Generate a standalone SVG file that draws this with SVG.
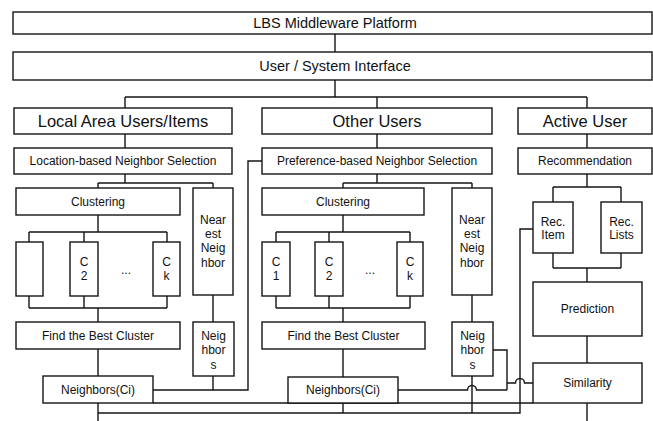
<svg xmlns="http://www.w3.org/2000/svg" width="653" height="421" viewBox="0 0 653 421">
  <style>
    .box { fill: #ffffff; stroke: #151515; stroke-width: 1.4; }
    .wire { fill: none; stroke: #151515; stroke-width: 1.4; }
    text { font-family: "Liberation Sans", Arial, Helvetica, sans-serif; fill: #111111; text-anchor: middle; }
    .big { font-size: 16.5px; }
    .top { font-size: 14.5px; }
    .mid { font-size: 12px; }
  </style>
  <rect width="653" height="421" fill="#ffffff"/>

  <!-- connectors -->
  <g id="connectors" class="wire">
    <path d="M335 34 V52 M335 80 V97 M125 97 H587 M125 97 V108 M377 97 V108 M587 97 V108"/>
    <path d="M125 134 V148 M377 134 V148 M587 134 V148"/>
    <!-- local area column -->
    <path d="M125 174 V183 M98 183 H213 M98 183 V188 M213 183 V188"/>
    <path d="M98 215 V232 M29 232 H167 M29 232 V242 M84 232 V242 M167 232 V242"/>
    <path d="M29 296 V308 M84 296 V308 M167 296 V308 M29 308 H167 M98 308 V322"/>
    <path d="M98 349 V376 M213 295 V322 M213 376 V390"/>
    <path d="M153 390 H248 V161 H262"/>
    <path d="M98 403 V421 M153 403 H533"/>
    <path d="M98 413 H520 V229 H533"/>
    <!-- other users column -->
    <path d="M377 174 V183 M343 183 H472 M343 183 V188 M472 183 V188"/>
    <path d="M343 215 V232 M276 232 H410 M276 232 V242 M329 232 V242 M410 232 V242"/>
    <path d="M276 296 V308 M329 296 V308 M410 296 V308 M276 308 H410 M343 308 V322"/>
    <path d="M343 349 V377 M472 295 V322 M472 376 V413 M343 403 V413"/>
    <path d="M398 390 H467.5 a4.5 4.5 0 0 1 9 0 H507"/>
    <path d="M493 350 H507 V390"/>
    <path d="M507 383 H515.5 a4.5 4.5 0 0 1 9 0 H533"/>
    <!-- active user column -->
    <path d="M587 174 V187 M553 187 H621 M553 187 V202 M621 187 V202"/>
    <path d="M553 253 V268 M621 253 V268 M553 268 H621 M587 268 V282"/>
    <path d="M587 336 V363 M587 403 V421"/>
  </g>

  <g id="lbs">
    <rect class="box" x="13" y="12" width="639" height="22"/>
    <text class="top" x="335" y="28">LBS Middleware Platform</text>
  </g>
  <g id="ui">
    <rect class="box" x="13" y="52" width="639" height="28"/>
    <text class="top" x="335" y="71">User / System Interface</text>
  </g>

  <!-- local area users / items -->
  <g id="local">
    <rect class="box" x="14" y="108" width="218" height="26"/>
    <text class="big" x="123" y="126.8">Local Area Users/Items</text>
  </g>
  <g id="locsel">
    <rect class="box" x="14" y="148" width="218" height="26"/>
    <text class="mid" x="123" y="165.2">Location-based Neighbor Selection</text>
  </g>
  <g id="clust1">
    <rect class="box" x="16" y="188" width="164" height="27"/>
    <text class="mid" x="98" y="205.7">Clustering</text>
  </g>
  <g id="near1">
    <rect class="box" x="193" y="188" width="40" height="107"/>
    <text class="mid" x="213" y="224">Near</text>
    <text class="mid" x="213" y="238">est</text>
    <text class="mid" x="213" y="252">Neig</text>
    <text class="mid" x="213" y="267">hbor</text>
  </g>
  <g id="c1a">
    <rect class="box" x="16" y="242" width="27" height="54"/>
  </g>
  <g id="c2a">
    <rect class="box" x="70" y="242" width="28" height="54"/>
    <text class="mid" x="84" y="266">C</text>
    <text class="mid" x="84" y="280">2</text>
  </g>
  <g id="dots1">
    <text class="mid" x="126" y="274">...</text>
  </g>
  <g id="cka">
    <rect class="box" x="153" y="242" width="27" height="54"/>
    <text class="mid" x="166.5" y="266">C</text>
    <text class="mid" x="166.5" y="280">k</text>
  </g>
  <g id="find1">
    <rect class="box" x="16" y="322" width="164" height="27"/>
    <text class="mid" x="98" y="339.7">Find the Best Cluster</text>
  </g>
  <g id="nb1">
    <rect class="box" x="193" y="322" width="41" height="54"/>
    <text class="mid" x="213.5" y="340">Neig</text>
    <text class="mid" x="213.5" y="354">hbor</text>
    <text class="mid" x="213.5" y="369">s</text>
  </g>
  <g id="nci1">
    <rect class="box" x="43" y="376" width="110" height="27"/>
    <text class="mid" x="98" y="393.7">Neighbors(Ci)</text>
  </g>

  <!-- other users -->
  <g id="other">
    <rect class="box" x="262" y="108" width="230" height="26"/>
    <text class="big" x="377" y="126.8">Other Users</text>
  </g>
  <g id="prefsel">
    <rect class="box" x="262" y="148" width="230" height="26"/>
    <text class="mid" x="377" y="165.2">Preference-based Neighbor Selection</text>
  </g>
  <g id="clust2">
    <rect class="box" x="262" y="188" width="162" height="27"/>
    <text class="mid" x="343" y="205.7">Clustering</text>
  </g>
  <g id="near2">
    <rect class="box" x="452" y="188" width="40" height="107"/>
    <text class="mid" x="472" y="224">Near</text>
    <text class="mid" x="472" y="238">est</text>
    <text class="mid" x="472" y="252">Neig</text>
    <text class="mid" x="472" y="267">hbor</text>
  </g>
  <g id="c1b">
    <rect class="box" x="262" y="242" width="28" height="54"/>
    <text class="mid" x="276" y="266">C</text>
    <text class="mid" x="276" y="280">1</text>
  </g>
  <g id="c2b">
    <rect class="box" x="315" y="242" width="28" height="54"/>
    <text class="mid" x="329" y="266">C</text>
    <text class="mid" x="329" y="280">2</text>
  </g>
  <g id="dots2">
    <text class="mid" x="370" y="274">...</text>
  </g>
  <g id="ckb">
    <rect class="box" x="397" y="242" width="26" height="54"/>
    <text class="mid" x="410" y="266">C</text>
    <text class="mid" x="410" y="280">k</text>
  </g>
  <g id="find2">
    <rect class="box" x="262" y="322" width="163" height="27"/>
    <text class="mid" x="343.5" y="339.7">Find the Best Cluster</text>
  </g>
  <g id="nb2">
    <rect class="box" x="452" y="322" width="41" height="54"/>
    <text class="mid" x="472.5" y="340">Neig</text>
    <text class="mid" x="472.5" y="354">hbor</text>
    <text class="mid" x="472.5" y="369">s</text>
  </g>
  <g id="nci2">
    <rect class="box" x="288" y="377" width="110" height="26"/>
    <text class="mid" x="343" y="394.2">Neighbors(Ci)</text>
  </g>

  <!-- active user -->
  <g id="active">
    <rect class="box" x="518" y="108" width="134" height="26"/>
    <text class="big" x="585" y="126.8">Active User</text>
  </g>
  <g id="recom">
    <rect class="box" x="518" y="148" width="134" height="26"/>
    <text class="mid" x="585" y="165.2">Recommendation</text>
  </g>
  <g id="recitem">
    <rect class="box" x="533" y="202" width="40" height="51"/>
    <text class="mid" x="553" y="226">Rec.</text>
    <text class="mid" x="553" y="239">Item</text>
  </g>
  <g id="reclists">
    <rect class="box" x="601" y="202" width="41" height="51"/>
    <text class="mid" x="621.5" y="226">Rec.</text>
    <text class="mid" x="621.5" y="239">Lists</text>
  </g>
  <g id="pred">
    <rect class="box" x="533" y="282" width="109" height="54"/>
    <text class="mid" x="587.5" y="313.2">Prediction</text>
  </g>
  <g id="sim">
    <rect class="box" x="533" y="363" width="109" height="40"/>
    <text class="mid" x="587.5" y="387.2">Similarity</text>
  </g>
</svg>
